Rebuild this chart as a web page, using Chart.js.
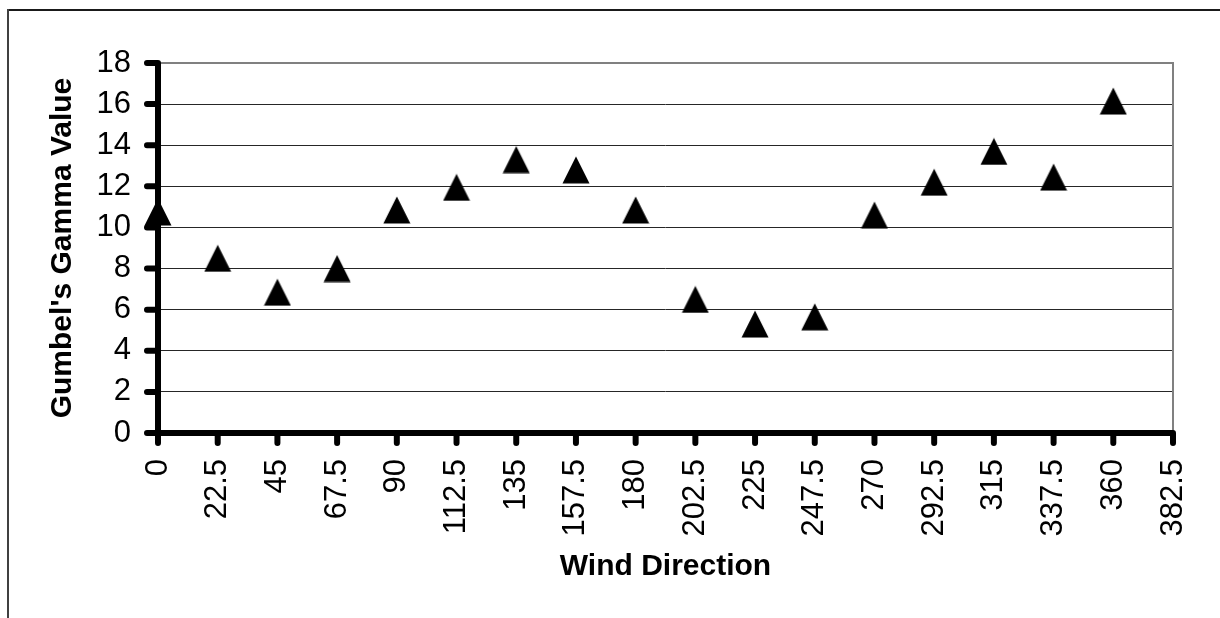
<!DOCTYPE html>
<html>
<head>
<meta charset="utf-8">
<script src="https://cdn.jsdelivr.net/npm/chart.js@4"></script>
<style>
  body { margin: 0; background: #fff; }
</style>
</head>
<body>
<canvas id="gammaChart" width="1220" height="618"></canvas>
<script>
// data
const windDirections = [0, 22.5, 45, 67.5, 90, 112.5, 135, 157.5, 180, 202.5, 225, 247.5, 270, 292.5, 315, 337.5, 360];
const gammaValues = [10.75, 8.5, 6.85, 8.0, 10.85, 11.95, 13.3, 12.8, 10.85, 6.5, 5.3, 5.65, 10.6, 12.2, 13.7, 12.45, 16.15];

const xTicks = [0, 22.5, 45, 67.5, 90, 112.5, 135, 157.5, 180, 202.5, 225, 247.5, 270, 292.5, 315, 337.5, 360, 382.5];
const xTickLabels = ['0', '22.5', '45', '67.5', '90', '112.5', '135', '157.5', '180', '202.5', '225', '247.5', '270', '292.5', '315', '337.5', '360', '382.5'];
const yTicks = [0, 2, 4, 6, 8, 10, 12, 14, 16, 18];
const yTickLabels = ['0', '2', '4', '6', '8', '10', '12', '14', '16', '18'];

const FONT = "'Liberation Sans', Arial, sans-serif";

// excel style triangle marker
const tri = document.createElement('canvas');
tri.width = 28;
tri.height = 28;
const tctx = tri.getContext('2d');
tctx.fillStyle = '#000';
tctx.beginPath();
tctx.moveTo(14, 0.5);
tctx.lineTo(27.5, 27.5);
tctx.lineTo(0.5, 27.5);
tctx.closePath();
tctx.fill();

// frame, plot border and thick axes with round ticks
const excelFrame = {
  id: 'excelFrame',
  beforeDraw(chart) {
    const ctx = chart.ctx;
    ctx.save();
    ctx.fillStyle = '#fff';
    ctx.fillRect(0, 0, chart.width, chart.height);
    ctx.fillStyle = '#1a1a1a';
    ctx.fillRect(7, 9, chart.width - 7, 2);
    ctx.fillStyle = '#404040';
    ctx.fillRect(7, 9, 2, chart.height - 9);
    ctx.restore();
  },
  beforeDatasetsDraw(chart) {
    const { ctx, chartArea: a, scales: { x, y } } = chart;
    ctx.save();
    ctx.strokeStyle = '#808080';
    ctx.lineWidth = 2;
    ctx.beginPath();
    ctx.moveTo(a.left, a.top);
    ctx.lineTo(a.right, a.top);
    ctx.lineTo(a.right, a.bottom);
    ctx.stroke();

    ctx.strokeStyle = '#000';
    ctx.lineWidth = 6;
    ctx.lineCap = 'round';
    ctx.beginPath();
    ctx.moveTo(a.left, a.top);
    ctx.lineTo(a.left, a.bottom);
    ctx.moveTo(a.left, a.bottom);
    ctx.lineTo(a.right, a.bottom);
    yTicks.forEach(v => {
      const py = y.getPixelForValue(v);
      ctx.moveTo(a.left - 11, py);
      ctx.lineTo(a.left, py);
    });
    xTicks.forEach(v => {
      const px = x.getPixelForValue(v);
      ctx.moveTo(px, a.bottom);
      ctx.lineTo(px, a.bottom + 10);
    });
    ctx.stroke();
    ctx.restore();
  }
};

const ctx = document.getElementById('gammaChart').getContext('2d');

new Chart(ctx, {
  type: 'scatter',
  data: {
    datasets: [{
      label: 'Gumbel\'s Gamma Value',
      data: windDirections.map((d, i) => ({ x: d, y: gammaValues[i] })),
      pointStyle: tri,
      pointRadius: 14,
      pointHoverRadius: 14,
      clip: false
    }]
  },
  plugins: [excelFrame],
  options: {
    responsive: false,
    animation: false,
    events: [],
    layout: { padding: { left: 40, top: 63, right: 47, bottom: 0 } },
    plugins: {
      legend: { display: false },
      tooltip: { enabled: false }
    },
    scales: {
      x: {
        type: 'linear',
        min: 0,
        max: 382.5,
        afterBuildTicks: s => { s.ticks = xTicks.map(v => ({ value: v })); },
        afterFit: s => { s.height = 185; s.paddingLeft = 0; s.paddingRight = 0; },
        grid: { display: false, drawTicks: false },
        border: { display: false },
        ticks: {
          autoSkip: false,
          minRotation: 90,
          maxRotation: 90,
          padding: 26,
          color: '#000',
          font: { family: FONT, size: 31 },
          callback: (v, i) => xTickLabels[i]
        },
        title: {
          display: true,
          text: 'Wind Direction',
          color: '#000',
          font: { family: FONT, size: 30, weight: 'bold' },
          padding: { top: 0, bottom: 33 }
        }
      },
      y: {
        min: 0,
        max: 18,
        afterBuildTicks: s => { s.ticks = yTicks.map(v => ({ value: v })); },
        afterFit: s => { s.width = 118; },
        grid: {
          drawTicks: false,
          lineWidth: 1,
          color: c => (c.tick && (c.tick.value === 0 || c.tick.value === 18)) ? 'rgba(0,0,0,0)' : '#262626'
        },
        border: { display: false },
        ticks: {
          padding: 27,
          color: '#000',
          font: { family: FONT, size: 31 },
          callback: (v, i) => yTickLabels[i]
        },
        title: {
          display: true,
          text: 'Gumbel\'s Gamma Value',
          color: '#000',
          font: { family: FONT, size: 30, weight: 'bold' },
          padding: { top: 5, bottom: 0 }
        }
      }
    }
  }
});
</script>
</body>
</html>
